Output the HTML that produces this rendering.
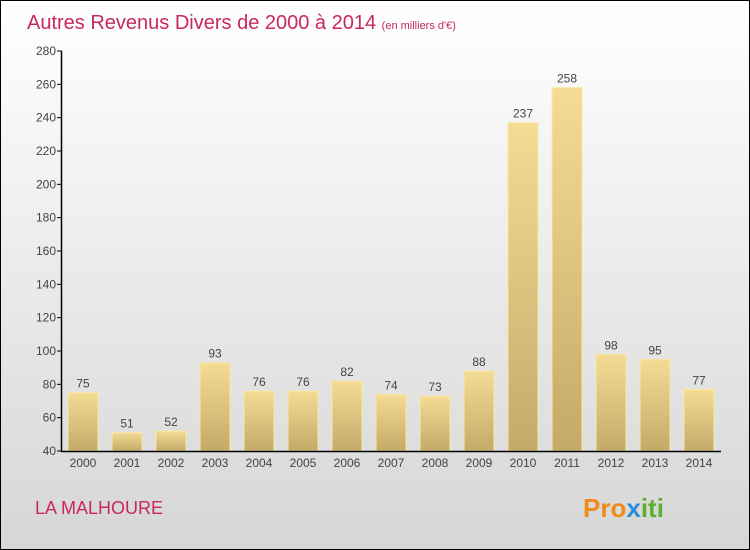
<!DOCTYPE html>
<html><head><meta charset="utf-8"><style>
body{margin:0}
#c{width:750px;height:550px;position:relative;box-sizing:border-box;border:1px solid #000;background:linear-gradient(#fff,#d6d6d6);font-family:"Liberation Sans",sans-serif;overflow:hidden}
svg{position:absolute;left:0;top:0}
</style></head><body>
<div id="c">
<svg id="s" width="750" height="550">
<defs><linearGradient id="g" x1="0" y1="0" x2="0" y2="1"><stop offset="0" stop-color="#f4dc95"/><stop offset="1" stop-color="#c4aa68"/></linearGradient></defs>
<text x="26" y="28" font-size="20" fill="#c8285a">Autres Revenus Divers de 2000 à 2014 <tspan font-size="11">(en milliers d'€)</tspan></text>
<text x="34" y="513" font-size="18" fill="#c8285a">LA MALHOURE</text>
<text x="582" y="516" font-size="26" font-weight="bold" fill="#f08a1a">Pro<tspan fill="#2a8fd6">x</tspan><tspan fill="#5cb030">iti</tspan></text>
</svg>
</div>
<script>
const years=["2000","2001","2002","2003","2004","2005","2006","2007","2008","2009","2010","2011","2012","2013","2014"];
const values=[75,51,52,93,76,76,82,74,73,88,237,258,98,95,77];
const ticks=[40,60,80,100,120,140,160,180,200,220,240,260,280];
const s=document.getElementById('s'),NS="http://www.w3.org/2000/svg";
const y=v=>450-(v-40)*400/240, x=i=>82+i*44;
function mk(t,a){const e=document.createElementNS(NS,t);for(const k in a)e.setAttribute(k,a[k]);s.appendChild(e);return e;}
ticks.forEach(t=>{
const l=mk('line',{x1:56,x2:61,y1:y(t),y2:y(t),stroke:'#000'});


const tx=mk('text',{x:55,y:y(t)+4,'font-size':12,'text-anchor':'end',fill:'#444'});tx.textContent=t;


});
values.forEach((v,i)=>{
const r=mk('rect',{x:x(i)-15,y:y(v),width:30,height:450-y(v),fill:'url(#g)',stroke:'#f8e8a8','stroke-width':1});


const t=mk('text',{x:x(i),y:y(v)-5,'font-size':12,'text-anchor':'middle',fill:'#444'});t.textContent=v;


const xl=mk('text',{x:x(i),y:466,'font-size':12,'text-anchor':'middle',fill:'#444'});xl.textContent=years[i];


});
const ya=mk('line',{x1:60.5,x2:60.5,y1:50,y2:451,stroke:'#000','stroke-width':1.5});


const xa=mk('line',{x1:60,x2:720,y1:450.5,y2:450.5,stroke:'#000','stroke-width':1.5});


</script>
</body></html>
